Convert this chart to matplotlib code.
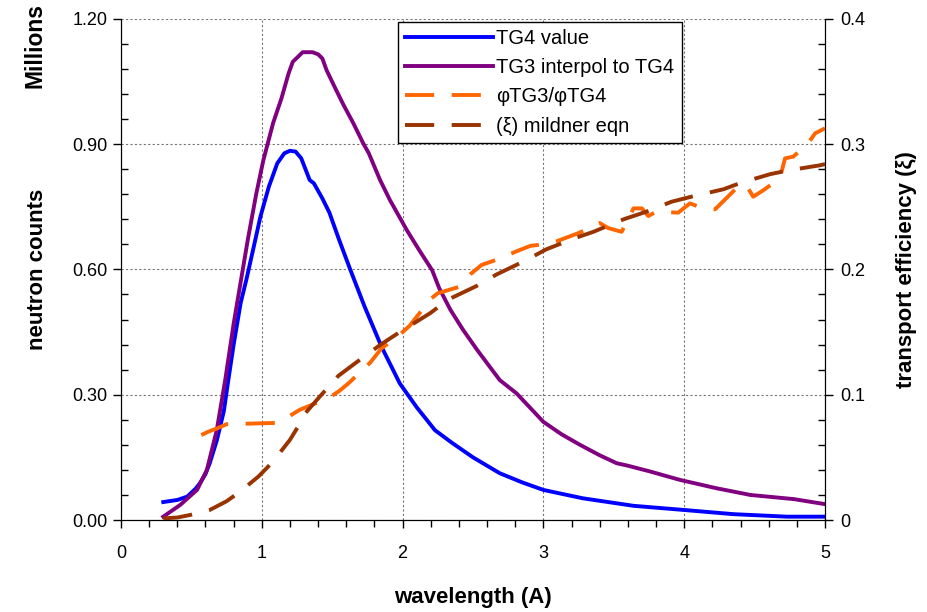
import numpy as np
import matplotlib
matplotlib.use("Agg")
import matplotlib.pyplot as plt
from matplotlib.ticker import MultipleLocator, FormatStrFormatter

plt.rcParams['font.family'] = ['Liberation Sans', 'DejaVu Sans']

# TG4 value (millions of neutron counts)
tg4_x = [0.30, 0.40, 0.47, 0.53, 0.56, 0.60, 0.63, 0.68, 0.73, 0.76, 0.80, 0.85, 0.89, 0.94,
         0.99, 1.05, 1.11, 1.16, 1.20, 1.24, 1.28, 1.34, 1.37, 1.43, 1.48, 1.55, 1.63, 1.73,
         1.85, 1.98, 2.10, 2.23, 2.35, 2.50, 2.69, 2.85, 3.00, 3.28, 3.64, 4.00, 4.35, 4.73, 5.00]
tg4_y = [0.043, 0.048, 0.056, 0.075, 0.088, 0.11, 0.136, 0.19, 0.26, 0.33, 0.42, 0.52, 0.575, 0.65,
         0.726, 0.798, 0.854, 0.878, 0.884, 0.882, 0.866, 0.814, 0.806, 0.77, 0.736, 0.67, 0.598, 0.511,
         0.415, 0.327, 0.27, 0.215, 0.185, 0.150, 0.112, 0.09, 0.072, 0.052, 0.034, 0.024, 0.014, 0.008, 0.008]

# TG3 interpolated to TG4
tg3_x = [0.30, 0.42, 0.54, 0.61, 0.68, 0.74, 0.80, 0.86, 0.90, 0.96, 1.01, 1.08, 1.14, 1.19, 1.22,
         1.26, 1.29, 1.36, 1.40, 1.43, 1.46, 1.52, 1.58, 1.65, 1.72, 1.76, 1.84, 1.91, 2.03, 2.12,
         2.21, 2.26, 2.34, 2.43, 2.53, 2.69, 2.81, 3.00, 3.13, 3.26, 3.40, 3.52, 3.60, 3.76, 3.97,
         4.23, 4.47, 4.78, 5.00]
tg3_y = [0.008, 0.036, 0.072, 0.12, 0.215, 0.335, 0.47, 0.59, 0.67, 0.78, 0.86, 0.95, 1.01, 1.069, 1.097,
         1.11, 1.12, 1.12, 1.115, 1.105, 1.077, 1.035, 0.994, 0.95, 0.902, 0.878, 0.814, 0.766, 0.694, 0.645,
         0.598, 0.555, 0.503, 0.455, 0.407, 0.335, 0.303, 0.235, 0.205, 0.18, 0.155, 0.136, 0.13, 0.116, 0.096,
         0.076, 0.06, 0.05, 0.038]

# phi TG3 / phi TG4 (right axis)
ratio_x = [0.57, 0.62, 0.68, 0.75, 0.94, 1.10, 1.14, 1.27, 1.40, 1.47, 1.55, 1.615, 1.77, 1.85, 1.96,
           2.05, 2.12, 2.19, 2.25, 2.40, 2.48, 2.56, 2.70, 2.80, 2.905, 3.06, 3.25, 3.40, 3.46, 3.556,
           3.64, 3.70, 3.745, 3.80, 3.958, 4.04, 4.136, 4.22, 4.37, 4.44, 4.49, 4.56, 4.68, 4.716,
           4.775, 4.88, 4.93, 5.00]
ratio_y = [0.0678, 0.0705, 0.073, 0.0765, 0.077, 0.0775, 0.079, 0.088, 0.094, 0.097, 0.103, 0.109, 0.1256, 0.137, 0.146,
           0.155, 0.165, 0.1756, 0.181, 0.186, 0.196, 0.2035, 0.209, 0.214, 0.2187, 0.221, 0.229, 0.237, 0.233, 0.230,
           0.2487, 0.2487, 0.2426, 0.246, 0.2453, 0.2527, 0.2487, 0.248, 0.2647, 0.2673, 0.258, 0.263, 0.2727, 0.2886,
           0.29, 0.3006, 0.3086, 0.3126]

# mildner equation (right axis)
mild_x = [0.30, 0.40, 0.49, 0.63, 0.75, 0.845, 0.975, 1.04, 1.106, 1.20, 1.26, 1.307, 1.40, 1.543, 1.662,
          1.84, 1.98, 2.195, 2.325, 2.526, 2.668, 2.88, 3.02, 3.22, 3.355, 3.57, 3.73, 3.91, 4.05, 4.28,
          4.40, 4.61, 4.74, 4.96, 5.00]
mild_y = [0.0013, 0.002, 0.004, 0.008, 0.015, 0.0226, 0.0346, 0.042, 0.0505, 0.064, 0.075, 0.085, 0.097, 0.115, 0.125,
          0.1397, 0.150, 0.165, 0.176, 0.1868, 0.196, 0.2075, 0.216, 0.2248, 0.230, 0.24, 0.246, 0.254, 0.258, 0.264,
          0.269, 0.276, 0.279, 0.283, 0.284]

fig = plt.figure(figsize=(9.28, 6.12), dpi=100)
ax = fig.add_axes([0.1304, 0.1503, 0.7586, 0.819])
ax2 = ax.twinx()

l1, = ax.plot(tg4_x, tg4_y, color='#0000FF', lw=2.8, label='TG4 value')
l2, = ax.plot(tg3_x, tg3_y, color='#800080', lw=2.8, label='TG3 interpol to TG4')
l3, = ax2.plot(ratio_x, ratio_y, color='#FF6600', lw=2.8, dashes=(7.5, 4.5), label='φTG3/φTG4')
l4, = ax2.plot(mild_x, mild_y, color='#993300', lw=2.8, dashes=(7.5, 4.5), label='(ξ) mildner eqn')

ax.set_xlim(0, 5)
ax.set_ylim(0, 1.2)
ax2.set_ylim(0, 0.4)

ax.xaxis.set_major_locator(MultipleLocator(1))
ax.xaxis.set_minor_locator(MultipleLocator(0.2))
ax.yaxis.set_major_locator(MultipleLocator(0.3))
ax.yaxis.set_minor_locator(MultipleLocator(0.06))
ax.yaxis.set_major_formatter(FormatStrFormatter('%.2f'))
ax2.yaxis.set_minor_locator(MultipleLocator(0.02))
ax2.set_yticks([0, 0.1, 0.2, 0.3, 0.4])
ax2.set_yticklabels(['0', '0.1', '0.2', '0.3', '0.4'])

for a in (ax, ax2):
    a.spines['top'].set_visible(False)
ax.tick_params(axis='both', which='major', labelsize=13, direction='out', length=6, width=1)
ax.tick_params(axis='y', which='minor', direction='in', length=5, width=1)
ax.tick_params(axis='x', which='minor', direction='out', length=5, width=1)
ax.tick_params(axis='x', pad=12)
ax2.tick_params(axis='y', which='major', labelsize=13, direction='out', length=6, width=1, pad=5)
ax2.tick_params(axis='y', which='minor', direction='in', length=5, width=1)

ax.grid(True, which='major', color='#777777', linestyle=(0, (2, 2)), linewidth=0.8)
ax.set_axisbelow(True)
# no gridline along the top edge
ax.get_ygridlines()[-1].set_visible(False)

ax.set_xlabel('wavelength (A)', fontsize=16, fontweight='bold', labelpad=18)
ax.set_ylabel('neutron counts', fontsize=16, fontweight='bold', labelpad=18)
ax2.set_ylabel('transport efficiency (ξ)', fontsize=16, fontweight='bold', labelpad=22)
fig.text(0.038, 0.925, 'Millions', rotation=90, fontsize=16.5, fontweight='bold', ha='center', va='center')

leg = ax2.legend(handles=[l1, l2, l3, l4], loc='upper left', bbox_to_anchor=(0.393, 0.993),
                 borderaxespad=0, fontsize=14.5, handlelength=4.4, handletextpad=0.15,
                 labelspacing=0.5, fancybox=False, framealpha=1, edgecolor='black',
                 borderpad=0.35)
leg.get_frame().set_linewidth(1)

fig.savefig('out.png', dpi=100)
